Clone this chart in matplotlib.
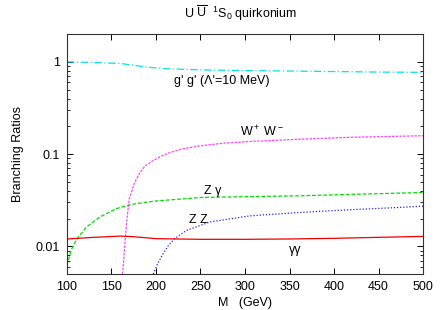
import matplotlib
matplotlib.use("Agg")
import matplotlib.pyplot as plt
from matplotlib.ticker import FixedLocator, FixedFormatter, LogLocator, NullFormatter

plt.rcParams['font.family'] = ['Liberation Sans', 'DejaVu Sans']
plt.rcParams['mathtext.fontset'] = 'custom'
plt.rcParams['mathtext.rm'] = 'Liberation Sans'
plt.rcParams['mathtext.it'] = 'Liberation Sans:italic'
plt.rcParams['mathtext.sf'] = 'Liberation Sans'

# Data
M_gg = [100, 130, 160, 175, 190, 210, 230, 260, 300, 350, 400, 450, 500]
BR_gg = [1.00, 0.985, 0.96, 0.92, 0.875, 0.845, 0.83, 0.815, 0.805, 0.795, 0.785, 0.775, 0.77]

M_WW = [162.5, 165, 167, 170, 176, 182, 188, 197, 206, 216, 230, 250, 275, 306, 362, 418, 500]
BR_WW = [0.005, 0.010, 0.018, 0.0325, 0.049, 0.063, 0.0746, 0.085, 0.095, 0.104, 0.114, 0.123, 0.131, 0.137, 0.145, 0.152, 0.158]

M_Zg = [100, 105, 111, 122, 137, 156, 174, 200, 250, 300, 362, 430, 500]
BR_Zg = [0.0062, 0.0092, 0.0119, 0.0162, 0.0208, 0.0257, 0.0286, 0.031, 0.0338, 0.0345, 0.0353, 0.0368, 0.0383]

M_ZZ = [197, 202, 208, 214, 221, 234.5, 261, 306, 362, 418, 460, 500]
BR_ZZ = [0.005, 0.0065, 0.0083, 0.0102, 0.0121, 0.0149, 0.0184, 0.0214, 0.0233, 0.0249, 0.026, 0.0272]

M_aa = [100, 130, 160, 175, 200, 250, 300, 350, 400, 450, 500]
BR_aa = [0.0120, 0.0125, 0.0129, 0.0127, 0.0121, 0.0119, 0.0119, 0.0120, 0.0122, 0.0125, 0.0128]

x_ticks = [100, 150, 200, 250, 300, 350, 400, 450, 500]
y_ticks = [0.01, 0.1, 1]
y_tick_labels = ["0.01", "0.1", "1"]

fig = plt.figure(figsize=(4.43, 3.10), dpi=100)
ax = fig.add_axes([0.151, 0.116, 0.804, 0.774])

ax.plot(M_gg, BR_gg, color='#00e5e5', lw=0.9, dashes=(6, 2, 1, 2))
ax.plot(M_WW, BR_WW, color='#ff40ff', lw=0.9, dashes=(2, 1))
ax.plot(M_Zg, BR_Zg, color='#00dd00', lw=0.9, dashes=(3, 1.5))
ax.plot(M_ZZ, BR_ZZ, color='#2020ee', lw=0.9, dashes=(1, 1.5))
ax.plot(M_aa, BR_aa, color='#ee0000', lw=0.9)

ax.set_yscale('log')
ax.set_xlim(100, 500)
ax.set_ylim(0.005, 2.0)

ax.xaxis.set_major_locator(FixedLocator(x_ticks))
ax.yaxis.set_major_locator(FixedLocator(y_ticks))
ax.yaxis.set_major_formatter(FixedFormatter(y_tick_labels))
ax.yaxis.set_minor_locator(LogLocator(base=10, subs=range(2, 10)))
ax.yaxis.set_minor_formatter(NullFormatter())

ax.tick_params(which='both', direction='in', top=True, right=True, labelsize=9, pad=5)
ax.tick_params(which='major', length=4, width=0.7)
ax.tick_params(which='minor', length=2, width=0.6)
for s in ax.spines.values():
    s.set_linewidth(0.8)
    s.set_color('#333333')

ax.set_xlabel("M   (GeV)", fontsize=9, labelpad=3)
ax.set_ylabel("Branching Ratios", fontsize=9, labelpad=8)
fig.text(0.542, 0.925, r"U $\overline{\mathrm{U}}$  $^1$S$_0$ quirkonium", ha='center', va='bottom', fontsize=9)

ax.text(274, 0.62, "g' g' (Λ'=10 MeV)", fontsize=9, ha='center', va='center')
ax.text(319, 0.176, r"W$^+$ W$^-$", fontsize=9, ha='center', va='center')
ax.text(264, 0.040, "Z γ", fontsize=9, ha='center', va='center')
ax.text(248, 0.0192, "Z Z", fontsize=9, ha='center', va='center')
ax.text(356, 0.0092, "γγ", fontsize=9, ha='center', va='center')

fig.savefig("out.png", dpi=100)
